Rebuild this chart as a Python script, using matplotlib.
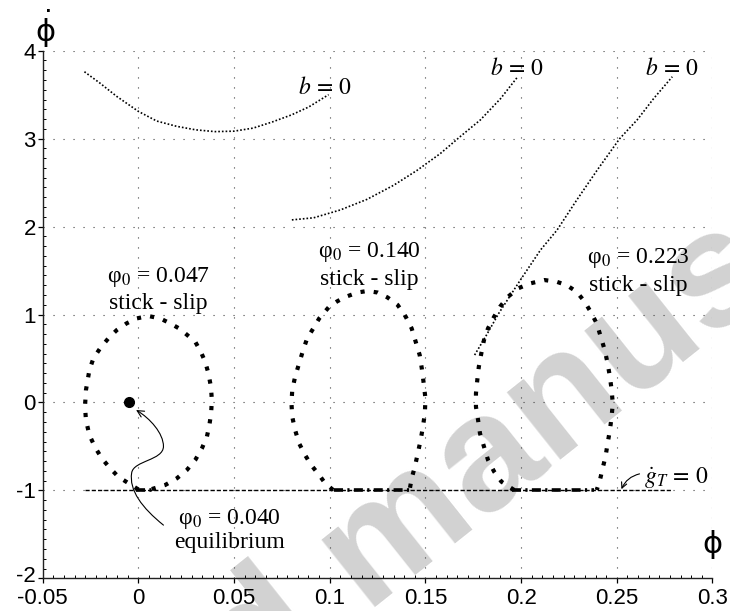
import matplotlib
matplotlib.use("Agg")
import matplotlib.pyplot as plt
from matplotlib.ticker import AutoMinorLocator
from matplotlib.patches import FancyArrowPatch
from matplotlib.path import Path
from matplotlib.transforms import ScaledTranslation

plt.rcParams['font.family'] = ['Liberation Sans Narrow', 'Liberation Sans', 'DejaVu Sans']
plt.rcParams['mathtext.fontset'] = 'stix'
plt.rcParams['axes.unicode_minus'] = False

# b = 0 curves (thin dotted)
b1_x = [-0.0282, -0.020, -0.0113, 0.0, 0.0096, 0.020, 0.030, 0.040, 0.050, 0.060, 0.070, 0.080, 0.089, 0.0994]
b1_y = [3.761, 3.63, 3.48, 3.31, 3.20, 3.14, 3.10, 3.08, 3.085, 3.12, 3.19, 3.27, 3.36, 3.50]
b2_x = [0.0802, 0.0916, 0.1055, 0.1194, 0.1334, 0.1456, 0.1578, 0.1682, 0.1787, 0.1892, 0.1979]
b2_y = [2.076, 2.100, 2.189, 2.309, 2.470, 2.639, 2.831, 3.024, 3.213, 3.454, 3.695]
b3_x = [0.1757, 0.1820, 0.1883, 0.1996, 0.2101, 0.2188, 0.2290, 0.2400, 0.2515, 0.2607, 0.2694, 0.2790]
b3_y = [0.539, 0.77, 1.013, 1.392, 1.733, 1.961, 2.30, 2.65, 3.00, 3.215, 3.46, 3.704]

# stick-slip cycles (thick dotted)
c1_x = [0.0, -0.0105, -0.0152, -0.0191, -0.0226, -0.0256, -0.0274, -0.0279, -0.0274, -0.0256, -0.0235,
        -0.0200, -0.0157, -0.0113, -0.0061, -0.0008, 0.0052, 0.0113, 0.0166, 0.0218, 0.0297, 0.0326,
        0.0349, 0.0366, 0.0379, 0.0384, 0.0380, 0.0371, 0.0358, 0.0332, 0.0297, 0.0253, 0.0201, 0.0140, 0.0070]
c1_y = [-0.99, -0.845, -0.738, -0.636, -0.511, -0.371, -0.200, -0.049, 0.141, 0.368, 0.502,
        0.615, 0.729, 0.823, 0.900, 0.956, 0.983, 0.956, 0.900, 0.835, 0.690, 0.577,
        0.463, 0.331, 0.179, 0.027, -0.124, -0.257, -0.390, -0.522, -0.655, -0.769, -0.863, -0.939, -0.985]
c2_x = [0.1018, 0.0976, 0.0945, 0.0903, 0.0871, 0.0840, 0.0819, 0.0804, 0.0800, 0.0804, 0.0819, 0.0840,
        0.0861, 0.0882, 0.0914, 0.0945, 0.0997, 0.1039, 0.1082, 0.1145, 0.1197, 0.1250, 0.1302, 0.1355,
        0.1397, 0.1428, 0.1449, 0.1470, 0.1481, 0.1491, 0.1500, 0.1497, 0.1487, 0.1475, 0.1460, 0.1445,
        0.1428, 0.1418]
c2_y = [-0.996, -0.920, -0.826, -0.712, -0.598, -0.466, -0.314, -0.162, -0.011, 0.141, 0.293, 0.444,
        0.596, 0.729, 0.842, 0.956, 1.089, 1.150, 1.200, 1.250, 1.268, 1.250, 1.194, 1.108,
        0.975, 0.842, 0.691, 0.539, 0.387, 0.217, 0.046, -0.124, -0.275, -0.427, -0.579, -0.730,
        -0.863, -0.988]
c3_x = [0.1964, 0.1897, 0.1859, 0.1827, 0.1806, 0.1785, 0.1775, 0.1764, 0.1764, 0.1771, 0.1779, 0.1792,
        0.1806, 0.1827, 0.1859, 0.1890, 0.1932, 0.1985, 0.2048, 0.2122, 0.2185, 0.2237, 0.2290, 0.2332,
        0.2363, 0.2395, 0.2416, 0.2437, 0.2452, 0.2464, 0.2473, 0.2479, 0.2473, 0.2464, 0.2452, 0.2441,
        0.2426, 0.2412, 0.2395]
c3_y = [-0.996, -0.901, -0.787, -0.654, -0.503, -0.351, -0.199, -0.049, 0.103, 0.255, 0.406, 0.558,
        0.710, 0.842, 0.975, 1.089, 1.203, 1.298, 1.354, 1.392, 1.373, 1.335, 1.259, 1.146,
        1.032, 0.899, 0.748, 0.596, 0.444, 0.293, 0.141, -0.011, -0.162, -0.314, -0.466, -0.617,
        -0.749, -0.882, -0.996]

# sliding boundary and stick phases
gt_x = [-0.028, 0.279]
gt_y = [-1.0, -1.0]
stick_x = [[-0.001, 0.008], [0.102, 0.142], [0.195, 0.238]]
stick_y = [-1.0, -1.0]
eq_x = [-0.005]
eq_y = [0.0]

xticks = [-0.05, 0, 0.05, 0.1, 0.15, 0.2, 0.25, 0.3]
xtick_labels = ['-0.05', '0', '0.05', '0.1', '0.15', '0.2', '0.25', '0.3']
yticks = [-2, -1, 0, 1, 2, 3, 4]
ytick_labels = ['-2', '-1', '0', '1', '2', '3', '4']

fig = plt.figure(figsize=(7.3, 6.11), dpi=100)
ax = fig.add_axes([0.0585, 0.0535, 0.9175, 0.8635])
ax.set_facecolor('none')

# watermark
fig.text(0.556, 0.046, 'Accepted manuscript', fontsize=118, fontweight='bold',
         family='Liberation Sans', color='#d2d2d2', rotation=38.5,
         rotation_mode='anchor', ha='center', va='baseline', zorder=-1)

thin = dict(color='k', lw=1.2, linestyle=(0, (1, 1.2)))
thick = dict(color='k', lw=3.0, linestyle=(0, (1, 2.2)))
ax.plot(b1_x, b1_y, **thin)
ax.plot(b2_x, b2_y, **thin)
ax.plot(b3_x, b3_y, **thin)
ax.plot(c1_x, c1_y, **thick)
ax.plot(c2_x, c2_y, **thick)
ax.plot(c3_x, c3_y, **thick)
ax.plot(gt_x, gt_y, color='k', lw=1.0, linestyle=(0, (3, 1.5)))
for sx in stick_x:
    ax.plot(sx, stick_y, color='k', lw=2.6, linestyle=(0, (2.5, 1.2, 0.6, 1.2)))
ax.plot(eq_x, eq_y, 'o', color='k', ms=7)

ax.set_xlim(-0.05, 0.3)
ax.set_ylim(-2, 4)
ax.set_xticks(xticks)
ax.set_xticklabels(xtick_labels)
ax.set_yticks(yticks)
ax.set_yticklabels(ytick_labels)
ax.xaxis.set_minor_locator(AutoMinorLocator(9))
ax.yaxis.set_minor_locator(AutoMinorLocator(9))
ax.tick_params(which='major', direction='out', length=3.5, width=0.9, labelsize=16, pad=1.5)
ax.tick_params(axis='x', which='major', pad=3.5)
ax.tick_params(which='minor', direction='in', length=2.5, width=0.7)
for s in ['top', 'right']:
    ax.spines[s].set_visible(False)
for s in ['left', 'bottom']:
    ax.spines[s].set_color('#222222')
    ax.spines[s].set_linewidth(1.0)
ax.grid(True, which='major', color='#444444', linestyle=(0, (1, 8)), linewidth=0.8)

# lift the bottom y label clear of the first x label
lab = ax.get_yticklabels()[0]
lab.set_transform(lab.get_transform() + ScaledTranslation(0, 3 / 72, fig.dpi_scale_trans))

# labels
serif = ['Liberation Serif', 'DejaVu Serif']
ax.text(-0.0485, 4.25, r'$\dot{\mathrm{\phi}}$', fontsize=22, math_fontfamily='dejavusans',
        ha='center', va='center', clip_on=False)
ax.text(0.3, -1.62, r'$\mathrm{\phi}$', fontsize=22, math_fontfamily='dejavusans',
        ha='center', va='center', clip_on=False)

ax.text(0.0977, 3.58, r'$b\,=\,0$', fontsize=17, ha='center', va='center')
ax.text(0.1979, 3.79, r'$b\,=\,0$', fontsize=17, ha='center', va='center')
ax.text(0.2790, 3.79, r'$b\,=\,0$', fontsize=17, ha='center', va='center')

ax.text(0.0104, 1.284, 'φ$_0$ = 0.047\nstick - slip', fontsize=17, family=serif,
        ha='center', va='center', multialignment='center', linespacing=1.3)
ax.text(0.1205, 1.56, 'φ$_0$ = 0.140\nstick - slip', fontsize=17, family=serif,
        ha='center', va='center', multialignment='center', linespacing=1.3)
ax.text(0.2614, 1.495, 'φ$_0$ = 0.223\nstick - slip', fontsize=17, family=serif,
        ha='center', va='center', multialignment='center', linespacing=1.3)
ax.text(0.0475, -1.45, 'φ$_0$ = 0.040\nequilibrium', fontsize=17, family=serif,
        ha='center', va='center', multialignment='center', linespacing=1.1)
ax.text(0.2813, -0.86, r'$\dot{g}_T\,=\,0$', fontsize=17, ha='center', va='center')

# arrows
verts = [(0.0131, -1.395), (0.002, -1.2), (-0.005, -1.0), (-0.0035, -0.80),
         (-0.0025, -0.66), (0.013, -0.66), (0.0131, -0.50),
         (0.0131, -0.35), (0.006, -0.18), (-0.0012, -0.086)]
codes = [Path.MOVETO] + [Path.CURVE4] * 9
ax.add_patch(FancyArrowPatch(path=Path(verts, codes), arrowstyle='->', mutation_scale=12,
                             lw=0.8, color='k'))
ax.annotate('', xy=(0.2519, -1.016), xytext=(0.2633, -0.806),
            arrowprops=dict(arrowstyle='->', connectionstyle='arc3,rad=0.3', lw=0.8, color='k'))

fig.savefig('out.png', dpi=100)
